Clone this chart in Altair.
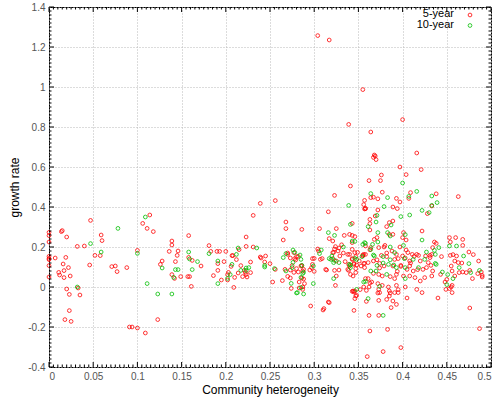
import altair as alt
import pandas as pd

# Community heterogeneity (x) vs growth rate (y), 5-year series
FIVE_YEAR = [
    (0, 0.273), (0, 0.257), (0, 0.225), (0, 0.153), (0, 0.143), (0, 0.137), (0, 0.107), (0, 0.05),
    (0.007, 0.145), (0.011, 0.073), (0.012, 0.06), (0.014, 0.277), (0.015, 0.282), (0.016, 0.115),
    (0.017, 0.082), (0.017, 0.047), (0.018, -0.163), (0.019, 0.148), (0.02, 0.25), (0.02, -0.01),
    (0.022, 0.097), (0.023, -0.118), (0.023, -0.037), (0.024, 0.055), (0.025, -0.172),
    (0.033, -0.005), (0.035, -0.04), (0.032, 0.203), (0.04, 0.205), (0.046, 0.11), (0.047, 0.333),
    (0.052, 0.158), (0.058, 0.157), (0.059, 0.26), (0.06, 0.232), (0.071, 0.102), (0.075, 0.105),
    (0.077, 0.077), (0.088, 0.097), (0.091, -0.2), (0.094, -0.2), (0.1, -0.205), (0.1, 0.183),
    (0.106, 0.318), (0.111, 0.293), (0.114, 0.36), (0.109, -0.23), (0.118, 0.277), (0.123, -0.163),
    (0.126, 0.113), (0.128, 0.13), (0.136, 0.178), (0.139, 0.062), (0.139, 0.23), (0.139, 0.21),
    (0.142, 0.043), (0.143, 0.127), (0.145, 0.158), (0.146, 0.18), (0.149, 0.052), (0.158, 0.257),
    (0.158, 0.148), (0.157, 0.052), (0.159, 0.052), (0.161, 0.003), (0.162, 0.133), (0.172, 0.105),
    (0.181, 0.207), (0.183, 0.178), (0.186, 0.057), (0.19, 0.178), (0.193, 0.178), (0.191, 0.117),
    (0.191, 0.083), (0.195, 0.035), (0.198, 0.127), (0.2, 0.178), (0.202, 0.062), (0.202, 0.035),
    (0.203, 0.073), (0.206, 0.103), (0.207, 0.157), (0.208, 0.157), (0.209, -0.002), (0.21, 0.048),
    (0.212, 0.137), (0.214, 0.07), (0.215, 0.187), (0.217, 0.107), (0.219, 0.052), (0.221, 0.083),
    (0.222, 0.073), (0.223, 0.062), (0.224, 0.05), (0.223, 0.25), (0.223, 0.203),
    (0.228, 0.125), (0.228, 0.072), (0.231, 0.358), (0.239, 0.418), (0.231, 0.2), (0.239, 0.15),
    (0.24, 0.145), (0.244, 0.125), (0.245, 0.155), (0.25, 0.117), (0.256, 0.088), (0.253, 0.025),
    (0.256, 0.432), (0.268, 0.325), (0.268, 0.292), (0.286, 0.288), (0.265, 0.235), (0.27, 0.163),
    (0.27, 0.17), (0.277, 0.172), (0.278, 0.142), (0.279, 0.135), (0.273, 0.145), (0.28, 0.152),
    (0.282, 0.153), (0.267, 0.088), (0.273, 0.085), (0.28, 0.092), (0.282, 0.075), (0.288, 0.088),
    (0.287, 0.08), (0.275, 0.107), (0.277, 0.073), (0.264, 0.032), (0.273, 0.045), (0.27, 0.053),
    (0.274, -0.007), (0.283, 0.025), (0.287, -0.012), (0.283, -0.005), (0.296, -0.095), (0.3, 0.143),
    (0.297, 0.097), (0.295, 0.085), (0.288, 0.04), (0.286, 0.045), (0.287, 0.0), (0.289, 0.017),
    (0.285, 0.105), (0.298, 0.113), (0.298, 0.142), (0.3, 0.078), (0.286, 0.107),
    (0.304, 1.257), (0.317, 1.235), (0.339, 0.813), (0.323, 0.458), (0.341, 0.505), (0.306, 0.292),
    (0.304, 0.19), (0.305, 0.18), (0.307, 0.138), (0.309, 0.142), (0.316, 0.376), (0.317, 0.242),
    (0.317, -0.078), (0.311, -0.108), (0.31, -0.115), (0.325, 0.292), (0.321, 0.23), (0.324, 0.202),
    (0.321, 0.172), (0.325, 0.13), (0.327, 0.18), (0.329, 0.155), (0.334, 0.258), (0.34, 0.263),
    (0.343, 0.318), (0.343, 0.222), (0.346, 0.252), (0.338, 0.163), (0.335, 0.127), (0.339, 0.113),
    (0.338, 0.088), (0.343, 0.138), (0.346, 0.172), (0.345, 0.113), (0.341, 0.063), (0.347, 0.072),
    (0.328, 0.085), (0.325, 0.055), (0.324, 0.008), (0.314, 0.085), (0.344, -0.02), (0.345, -0.025),
    (0.347, -0.045), (0.346, -0.058), (0.345, -0.117), (0.343, 0.258), (0.343, 0.188), (0.328, 0.195),
    (0.323, 0.19), (0.322, 0.173), (0.321, 0.142), (0.313, 0.088), (0.323, 0.083), (0.34, 0.163),
    (0.343, 0.142), (0.345, 0.118), (0.347, 0.092), (0.344, 0.055), (0.339, 0.083), (0.34, 0.105),
    (0.349, 0.173), (0.347, 0.152), (0.351, 0.13), (0.353, 0.105), (0.356, 0.118), (0.356, 0.163),
    (0.358, 0.205), (0.343, -0.022), (0.348, -0.042), (0.316, -0.075), (0.356, 0.412), (0.358, 0.392),
    (0.355, 0.987), (0.362, 0.0), (0.359, -0.017), (0.359, -0.072), (0.358, 0.042),
    (0.4, 0.837), (0.364, 0.775), (0.368, 0.66), (0.369, 0.655), (0.367, 0.648), (0.37, 0.637),
    (0.416, 0.67), (0.397, 0.6), (0.421, 0.587), (0.376, 0.56), (0.404, 0.562), (0.362, 0.532),
    (0.375, 0.532), (0.377, 0.474), (0.409, 0.472), (0.438, 0.466), (0.463, 0.452), (0.364, 0.447),
    (0.367, 0.449), (0.372, 0.441), (0.393, 0.443), (0.407, 0.443), (0.397, 0.425), (0.357, 0.433),
    (0.357, 0.39), (0.358, 0.393), (0.389, 0.4), (0.372, 0.385), (0.394, 0.392), (0.428, 0.367),
    (0.369, 0.355), (0.363, 0.338), (0.363, 0.317), (0.363, 0.285), (0.385, 0.322), (0.389, 0.33),
    (0.382, 0.302), (0.385, 0.263), (0.371, 0.247), (0.368, 0.238), (0.401, 0.272), (0.4, 0.247),
    (0.404, 0.235), (0.422, 0.28), (0.389, 0.263), (0.364, 0.197), (0.373, 0.197), (0.379, 0.2),
    (0.38, 0.208), (0.388, 0.18), (0.393, 0.163), (0.397, 0.2), (0.404, 0.185), (0.406, 0.172),
    (0.411, 0.163), (0.416, 0.163), (0.418, 0.158), (0.426, 0.155), (0.433, 0.163), (0.355, 0.155),
    (0.358, 0.163), (0.376, 0.158), (0.382, 0.152), (0.391, 0.138), (0.395, 0.142), (0.4, 0.155),
    (0.408, 0.13), (0.42, 0.13), (0.429, 0.122), (0.431, 0.147), (0.361, 0.122), (0.367, 0.13),
    (0.374, 0.118), (0.379, 0.105), (0.389, 0.105), (0.398, 0.108), (0.405, 0.088), (0.408, 0.105),
    (0.412, 0.08), (0.423, 0.088), (0.427, 0.097), (0.357, 0.097), (0.367, 0.068), (0.373, 0.063),
    (0.377, 0.055), (0.386, 0.052), (0.391, 0.042), (0.393, 0.063), (0.401, 0.055), (0.408, 0.055),
    (0.414, 0.047), (0.42, 0.03), (0.425, 0.047), (0.361, 0.042), (0.365, 0.025), (0.372, 0.017),
    (0.377, 0.008), (0.384, 0.0), (0.393, 0.008), (0.403, 0.0), (0.356, 0.0), (0.373, -0.012),
    (0.374, -0.028), (0.385, -0.02), (0.391, -0.028), (0.395, -0.028), (0.416, -0.012), (0.422, -0.028),
    (0.373, -0.067), (0.382, -0.062), (0.389, -0.07), (0.385, -0.045), (0.387, -0.103), (0.393, -0.087),
    (0.362, -0.142), (0.373, -0.142), (0.363, -0.22), (0.383, -0.212), (0.378, -0.323), (0.398, -0.303),
    (0.36, -0.348),
    (0.331, 0.211), (0.333, 0.17), (0.348, 0.11), (0.355, 0.16), (0.357, 0.118), (0.363, 0.186),
    (0.371, 0.136), (0.374, 0.095), (0.382, 0.17), (0.394, 0.078), (0.398, 0.103), (0.403, 0.145),
    (0.409, 0.12), (0.413, 0.153), (0.417, 0.087), (0.352, -0.013), (0.363, 0.02), (0.386, -0.03),
    (0.395, -0.013), (0.405, -0.055), (0.372, -0.03), (0.346, -0.02),
    (0.433, 0.405), (0.436, 0.225), (0.438, 0.218), (0.431, 0.158), (0.434, 0.197), (0.444, 0.152),
    (0.432, 0.108), (0.434, 0.08), (0.433, 0.055), (0.443, 0.063), (0.45, 0.038), (0.448, 0.025),
    (0.449, -0.012), (0.453, -0.008), (0.455, 0.0), (0.456, 0.008), (0.456, -0.028), (0.453, 0.247),
    (0.454, 0.225), (0.46, 0.247), (0.468, 0.238), (0.454, 0.158), (0.457, 0.162), (0.459, 0.13),
    (0.461, 0.155), (0.463, 0.122), (0.468, 0.208), (0.467, 0.12), (0.468, 0.075), (0.464, 0.072),
    (0.459, 0.055), (0.455, 0.105), (0.456, 0.08), (0.475, 0.175), (0.476, 0.083), (0.479, 0.042),
    (0.48, 0.162), (0.486, 0.13), (0.489, 0.075), (0.49, 0.058), (0.49, 0.05), (0.485, 0.067),
    (0.44, -0.055), (0.476, -0.105), (0.487, -0.208), (0.472, 0.072),
]

# 10-year series
TEN_YEAR = [
    (0.032, 0.0), (0.047, 0.217), (0.059, 0.175), (0.078, 0.293), (0.1, 0.168), (0.109, 0.35),
    (0.111, 0.017), (0.123, -0.035), (0.128, 0.095), (0.139, -0.035), (0.141, 0.048), (0.143, 0.087),
    (0.146, 0.087), (0.158, 0.175), (0.159, 0.14), (0.162, 0.087), (0.168, 0.127), (0.181, 0.167),
    (0.191, 0.13), (0.191, 0.017), (0.202, 0.043), (0.205, 0.062), (0.207, 0.113), (0.212, 0.163),
    (0.214, 0.195), (0.217, 0.083), (0.223, 0.095), (0.223, 0.083),
    (0.226, 0.097), (0.235, 0.195), (0.244, 0.108), (0.244, 0.1), (0.255, 0.092), (0.268, 0.167),
    (0.276, 0.185), (0.265, 0.147), (0.285, 0.138), (0.275, 0.097), (0.286, 0.108), (0.274, 0.018),
    (0.285, -0.003), (0.281, -0.028), (0.299, 0.017), (0.308, 0.185), (0.306, 0.167), (0.268, 0.08),
    (0.288, 0.073), (0.285, 0.048), (0.28, -0.03), (0.288, -0.035), (0.276, 0.123), (0.284, 0.16),
    (0.278, 0.173), (0.287, 0.068), (0.299, 0.105),
    (0.316, 0.272), (0.323, 0.258), (0.317, 0.142), (0.319, 0.138), (0.323, 0.133), (0.333, 0.2),
    (0.339, 0.408), (0.341, 0.313), (0.343, 0.23), (0.341, 0.097), (0.348, 0.138), (0.348, -0.012),
    (0.32, 0.155), (0.322, 0.122), (0.328, 0.122), (0.322, 0.042), (0.34, 0.113), (0.354, 0.152),
    (0.355, 0.213), (0.358, 0.218), (0.361, -0.058), (0.356, 0.025), (0.341, 0.11), (0.346, 0.143),
    (0.346, 0.228),
    (0.4, 0.52), (0.364, 0.467), (0.416, 0.478), (0.433, 0.455), (0.383, 0.447), (0.407, 0.453),
    (0.379, 0.402), (0.422, 0.383), (0.433, 0.408), (0.398, 0.352), (0.408, 0.36), (0.371, 0.358),
    (0.37, 0.325), (0.361, 0.302), (0.387, 0.31), (0.383, 0.272), (0.386, 0.255), (0.372, 0.272),
    (0.372, 0.225), (0.366, 0.213), (0.403, 0.262), (0.422, 0.235), (0.357, 0.222), (0.364, 0.188),
    (0.386, 0.2), (0.391, 0.172), (0.401, 0.208), (0.427, 0.175), (0.368, 0.155), (0.378, 0.152),
    (0.402, 0.142), (0.412, 0.138), (0.425, 0.138), (0.371, 0.108), (0.384, 0.113), (0.393, 0.097),
    (0.403, 0.097), (0.418, 0.097), (0.364, 0.08), (0.37, 0.08), (0.382, 0.063), (0.403, 0.042),
    (0.358, 0.028), (0.378, -0.142), (0.367, 0.16), (0.378, 0.12), (0.386, 0.136), (0.39, 0.11),
    (0.374, 0.003),
    (0.439, 0.422), (0.43, 0.372), (0.436, 0.183), (0.437, 0.163), (0.441, 0.197), (0.437, 0.118),
    (0.438, 0.113), (0.445, 0.075), (0.45, 0.012), (0.451, 0.062), (0.464, 0.097), (0.461, 0.205),
    (0.453, 0.205), (0.469, 0.155), (0.457, 0.042), (0.475, 0.117), (0.477, 0.072), (0.487, 0.083),
]

SERIES = ["5-year", "10-year"]
COLORS = ["#ff0000", "#00c000"]

X_TICKS = [0, 0.05, 0.1, 0.15, 0.2, 0.25, 0.3, 0.35, 0.4, 0.45, 0.5]
Y_TICKS = [-0.4, -0.2, 0, 0.2, 0.4, 0.6, 0.8, 1, 1.2, 1.4]
X_MINOR = [round(i * 0.005, 3) for i in range(101) if i % 10]
Y_MINOR = [round(-0.4 + i * 0.02, 2) for i in range(91) if i % 10]

W, H = 442, 360
FONT = "Liberation Sans"

rows = [{"x": x, "y": y, "series": SERIES[0]} for x, y in FIVE_YEAR]
rows += [{"x": x, "y": y, "series": SERIES[1]} for x, y in TEN_YEAR]
df = pd.DataFrame(rows)

xscale = alt.Scale(domain=[0, 0.5], nice=False, zero=False)
yscale = alt.Scale(domain=[-0.4, 1.4], nice=False, zero=False)
label_expr = "replace(format(datum.value, '~g'), '\u2212', '-')"

points = alt.Chart(df).mark_point(
    shape="circle", filled=False, size=14, strokeWidth=1, opacity=0.8
).encode(
    x=alt.X("x:Q", scale=xscale,
            axis=alt.Axis(title="Community heterogeneity", values=X_TICKS, tickCount=30,
                          labelExpr=label_expr)),
    y=alt.Y("y:Q", scale=yscale,
            axis=alt.Axis(title="growth rate", values=Y_TICKS, tickCount=30,
                          labelExpr=label_expr)),
    stroke=alt.Stroke("series:N", scale=alt.Scale(domain=SERIES, range=COLORS), legend=None),
)


def x_edge_ticks(vals, length):
    src = pd.DataFrame({"x": vals})
    base = alt.Chart(src).mark_rule(color="black", strokeWidth=1)
    bottom = base.encode(x=alt.X("x:Q", scale=xscale), y=alt.value(H), y2=alt.value(H - length))
    top = base.encode(x=alt.X("x:Q", scale=xscale), y=alt.value(0), y2=alt.value(length))
    return [bottom, top]


def y_edge_ticks(vals, length):
    src = pd.DataFrame({"y": vals})
    base = alt.Chart(src).mark_rule(color="black", strokeWidth=1)
    left = base.encode(y=alt.Y("y:Q", scale=yscale), x=alt.value(0), x2=alt.value(length))
    right = base.encode(y=alt.Y("y:Q", scale=yscale), x=alt.value(W), x2=alt.value(W - length))
    return [left, right]


ticks = (x_edge_ticks(X_TICKS, 5) + x_edge_ticks(X_MINOR, 2.5)
         + y_edge_ticks(Y_TICKS, 5) + y_edge_ticks(Y_MINOR, 2.5))

# key in the upper right corner: label then sample marker
legend_layers = []
for i, (name, col) in enumerate(zip(SERIES, COLORS)):
    src = pd.DataFrame({"label": [name]})
    legend_layers.append(
        alt.Chart(src).mark_text(align="right", baseline="middle", font=FONT, fontSize=11, color="black")
        .encode(text="label:N", x=alt.value(405), y=alt.value(7 + 10.5 * i))
    )
    legend_layers.append(
        alt.Chart(src).mark_point(shape="circle", filled=False, size=14, strokeWidth=1, opacity=0.8, color=col)
        .encode(x=alt.value(421), y=alt.value(8 + 10.5 * i))
    )

chart = alt.layer(points, *ticks, *legend_layers).properties(
    width=W, height=H,
    autosize=alt.AutoSizeParams(type="none"),
    padding={"left": 49, "top": 7, "right": 8, "bottom": 34},
).configure_view(
    stroke="black", strokeWidth=1
).configure_axis(
    grid=True, gridColor="#b8b8b8", gridDash=[1, 2], gridWidth=1,
    domain=False, ticks=False, labelOverlap=False,
    labelFont=FONT, labelFontSize=10, labelColor="#555555", labelPadding=4,
    titleFont=FONT, titleFontSize=12, titleFontWeight="normal", titleColor="black",
).configure_axisY(
    titlePadding=6
).configure_axisX(
    titlePadding=3
)

chart.save("out.html", embed_options={"renderer": "svg", "actions": False})
